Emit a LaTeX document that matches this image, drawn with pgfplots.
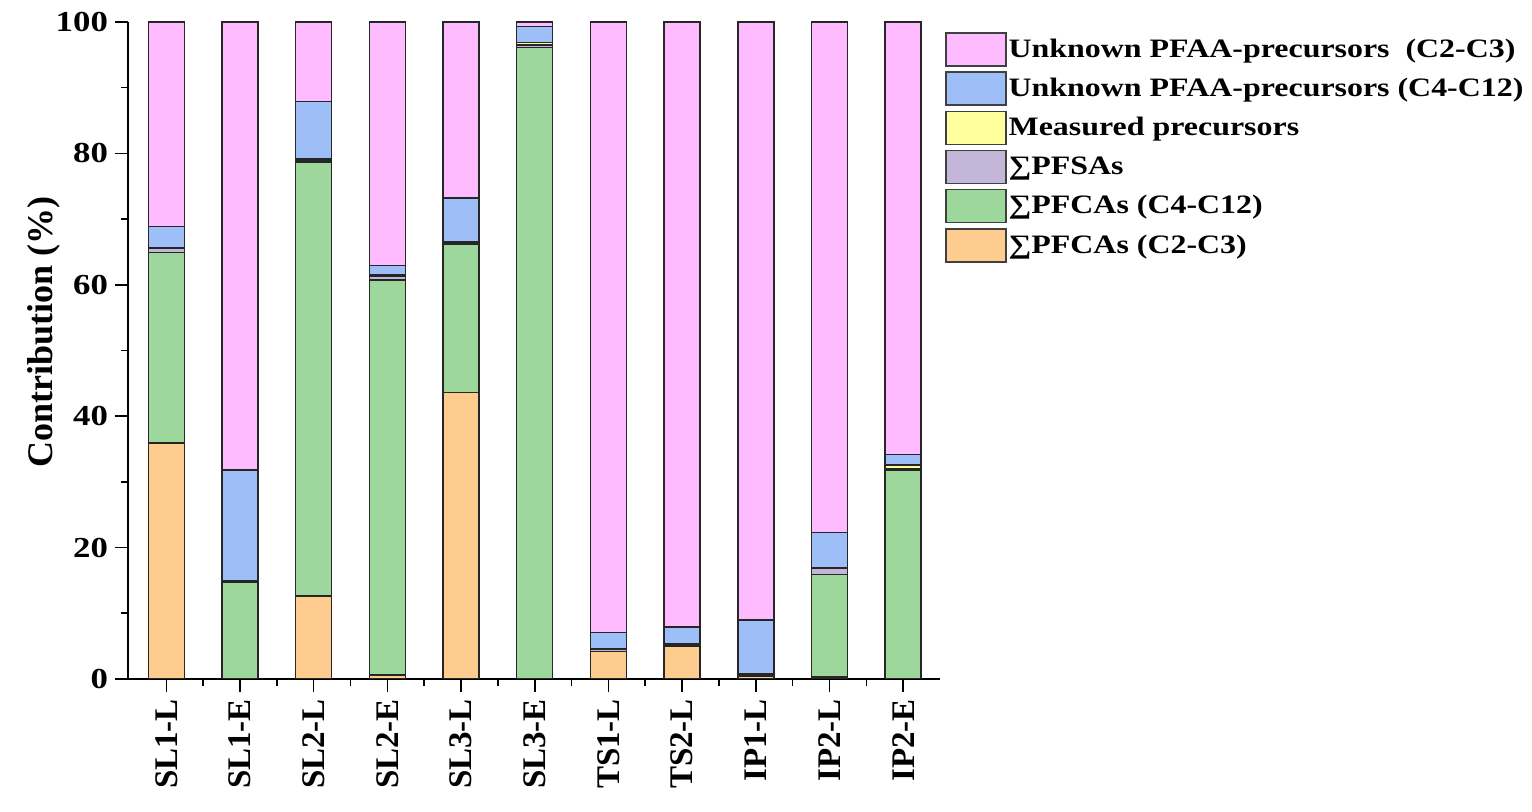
\documentclass[border=0pt]{standalone}
\usepackage{fontspec}
\setmainfont{Liberation Serif}[FakeStretch=1.2]
\newfontfamily\rotfont{Liberation Serif}
\usepackage{pgfplots}
\usepackage{pgfplotstable}
\pgfplotsset{compat=1.18}
\definecolor{cpink}{HTML}{FFBBFF}
\definecolor{cblue}{HTML}{9DBEF7}
\definecolor{cyellow}{HTML}{FFFF9E}
\definecolor{cpurple}{HTML}{C4B6D9}
\definecolor{cgreen}{HTML}{9DD79B}
\definecolor{corange}{HTML}{FFCC90}
\pgfplotstableread{
x name orange green pfsa meas blue pink
0 SL1-L 35.9 29.0 0.6 0.2 3.2 31.1
1 SL1-E 0 14.7 0.2 0.1 16.8 68.2
2 SL2-L 12.6 66.1 0.3 0.2 8.7 12.1
3 SL2-E 0.6 60.1 0.6 0.3 1.3 37.1
4 SL3-L 43.6 22.6 0.2 0.1 6.7 26.8
5 SL3-E 0.1 96.0 0.4 0.4 2.4 0.7
6 TS1-L 4.2 0 0.3 0.1 2.5 92.9
7 TS2-L 5.0 0 0.2 0.1 2.6 92.1
8 IP1-L 0.4 0 0.2 0.2 8.2 91.0
9 IP2-L 0.3 15.6 0.9 0.2 5.3 77.7
10 IP2-E 0 31.8 0.2 0.6 1.6 65.8
}\datatable
\begin{document}
\begin{tikzpicture}
\useasboundingbox (-64pt,-66.5pt) rectangle (702pt,339.5pt);
\begin{axis}[
  at={(0,0)}, anchor=south west,
  scale only axis, width=406pt, height=328.5pt,
  ybar stacked, bar width=18pt,
  xmin=-0.52, xmax=10.5, ymin=0, ymax=100,
  axis x line*=bottom, axis y line*=left,
  axis line style={line width=0.8pt, black},
  xtick={0,...,10},
  xticklabels={SL1-L,SL1-E,SL2-L,SL2-E,SL3-L,SL3-E,TS1-L,TS2-L,IP1-L,IP2-L,IP2-E},
  minor x tick num=1,
  ytick={0,20,...,100}, minor y tick num=1,
  tick align=outside,
  major tick length=6.5pt, minor tick length=3.5pt,
  every tick/.style={line width=0.8pt, black},
  /pgf/number format/assume math mode=true,
  x tick label style={rotate=90, anchor=east, font=\rotfont\bfseries\fontsize{16.5}{16.5}\selectfont},
  y tick label style={font=\bfseries\fontsize{14.5}{14.5}\selectfont},
  ylabel={Contribution (\%)},
  ylabel style={at={(axis description cs:-0.104,0.528)}, anchor=center, font=\rotfont\bfseries\fontsize{18}{18}\selectfont},
  every axis plot/.append style={draw=black!85, line width=0.75pt},
  legend image code/.code={\draw[#1, draw=black!75, line width=0.7pt] (0pt,-8.25pt) rectangle (30pt,8.25pt);},
  reverse legend,
  legend style={at={(rel axis cs:1.006,0.985)}, anchor=north west, draw=none, fill=none,
    font=\bfseries\fontsize{13.3}{13.3}\selectfont, row sep=2.4pt,
    inner sep=0pt, nodes={inner sep=1pt, anchor=west}},
  legend cell align=left,
]
\addplot[fill=corange] table[x=x, y=orange] {\datatable};
\addplot[fill=cgreen] table[x=x, y=green] {\datatable};
\addplot[fill=cpurple] table[x=x, y=pfsa] {\datatable};
\addplot[fill=cyellow] table[x=x, y=meas] {\datatable};
\addplot[fill=cblue] table[x=x, y=blue] {\datatable};
\addplot[fill=cpink] table[x=x, y=pink] {\datatable};
\legend{∑PFCAs (C2-C3), ∑PFCAs (C4-C12), ∑PFSAs, Measured precursors, Unknown PFAA-precursors (C4-C12), Unknown PFAA-precursors\ \ (C2-C3)}
\end{axis}
\end{tikzpicture}
\end{document}
